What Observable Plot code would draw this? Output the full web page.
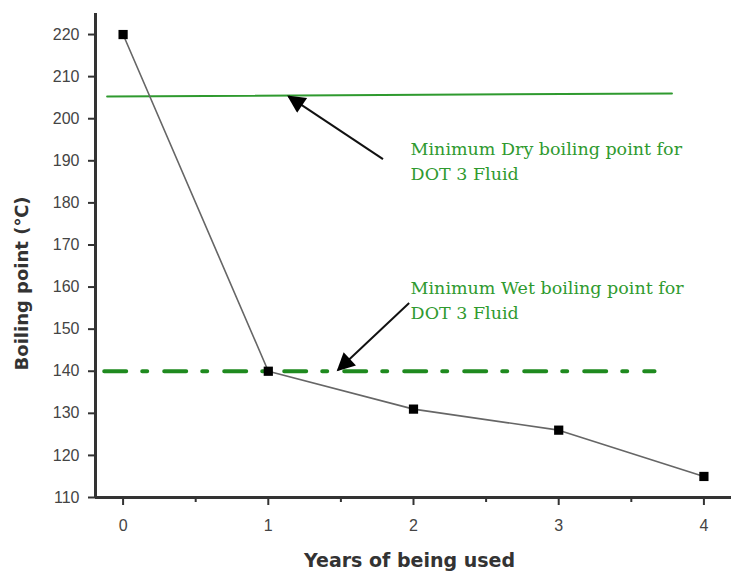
<!DOCTYPE html>
<html>
<head>
<meta charset="utf-8">
<script src="https://cdn.jsdelivr.net/npm/d3@7"></script>
<script src="https://cdn.jsdelivr.net/npm/@observablehq/plot@0.6"></script>
<style>
  html, body { margin: 0; padding: 0; background: #fff; }
  #chart svg { display: block; }
</style>
</head>
<body>
<div id="chart"></div>
<script>
// ---- data ----
const years = [0, 1, 2, 3, 4];
const boiling = [220, 140, 131, 126, 115];

const yTicks = [110, 120, 130, 140, 150, 160, 170, 180, 190, 200, 210, 220];
const xTicks = [0, 1, 2, 3, 4];
const xMinorTicks = [0.5, 1.5, 2.5, 3.5];

// minimum dry boiling point reference line (slightly sloped in original)
const dryX = [-0.11, 3.78];
const dryY = [205.3, 206.0];
// minimum wet boiling point reference line
const wetX = [-0.13, 3.66];
const wetY = [140, 140];

// annotation arrows (tail -> tip), data units
const arrowX1 = [1.79, 1.97];
const arrowY1 = [190.4, 156.2];
const arrowX2 = [1.14, 1.48];
const arrowY2 = [205.3, 140.3];

// annotation texts
const noteText = ["Minimum Dry boiling point for\nDOT 3 Fluid", "Minimum Wet boiling point for\nDOT 3 Fluid"];
const noteX = [1.98, 1.98];
const noteY = [190.3, 157.2];

const xLabel = "Years of being used";
const yLabel = "Boiling point (\u2103)";

// ---- build tables ----
const points = years.map((x, i) => ({x, y: boiling[i]}));
const dry = dryX.map((x, i) => ({x, y: dryY[i]}));
const wet = wetX.map((x, i) => ({x, y: wetY[i]}));
const arrows = arrowX1.map((x1, i) => ({x1, y1: arrowY1[i], x2: arrowX2[i], y2: arrowY2[i]}));
const notes = noteText.map((t, i) => ({t, x: noteX[i], y: noteY[i]}));

const green = "#2f9a2f";
const axisColor = "#333";
const tickFont = "Liberation Sans, Arial, sans-serif";

const chart = Plot.plot({
  width: 731,
  height: 571,
  marginLeft: 95,
  marginRight: 0,
  marginTop: 13,
  marginBottom: 74,
  style: {background: "#fff", fontFamily: tickFont},
  x: {domain: [-0.19, 4.19]},
  y: {domain: [110, 225]},
  marks: [
    // reference lines
    Plot.line(dry, {x: "x", y: "y", stroke: green, strokeWidth: 2}),
    Plot.line(wet, {x: "x", y: "y", stroke: "#1f8a1f", strokeWidth: 4, strokeDasharray: "22,16,5,17"}),
    // data
    Plot.line(points, {x: "x", y: "y", stroke: "#666", strokeWidth: 1.6}),
    Plot.dot(points, {x: "x", y: "y", symbol: "square", r: 5.2, fill: "#000", stroke: "none"}),
    // arrows
    Plot.link(arrows, {x1: "x1", y1: "y1", x2: "x2", y2: "y2", stroke: "#111", strokeWidth: 2, className: "annot-arrow"}),
    // notes
    Plot.text(notes, {x: "x", y: "y", text: "t", textAnchor: "start", lineAnchor: "middle", lineHeight: 1.4,
      fill: green, fontSize: 17.5, fontFamily: "DejaVu Serif, serif"}),
    // axes
    Plot.axisY({ticks: yTicks, tickSize: 7, tickPadding: 9, fontSize: 16, color: "#444", stroke: axisColor, strokeWidth: 2, label: null, tickFormat: "d"}),
    Plot.axisX({ticks: xTicks, tickSize: 8, tickPadding: 14, fontSize: 16, color: "#444", stroke: axisColor, strokeWidth: 2, label: null, tickFormat: "d"}),
    Plot.axisX({ticks: xMinorTicks, tickSize: 5, text: null, stroke: axisColor, strokeWidth: 2, label: null}),
    Plot.ruleX([-0.19], {stroke: axisColor, strokeWidth: 3}),
    Plot.ruleY([110], {stroke: axisColor, strokeWidth: 3}),
    // axis titles
    Plot.text([xLabel], {frameAnchor: "bottom", textAnchor: "middle", lineAnchor: "middle", dy: 63, dx: -4, fontSize: 19, fill: "#333", fontFamily: "DejaVu Sans, sans-serif", fontWeight: "bold"}),
    Plot.text([yLabel], {frameAnchor: "left", textAnchor: "middle", lineAnchor: "middle", rotate: -90, dx: -73, dy: 28, fontSize: 18, fill: "#333", fontFamily: "DejaVu Sans, sans-serif", fontWeight: "bold"})
  ]
});

// filled arrowheads for annotation arrows
const svg = d3.select(chart);
const defs = svg.insert("defs", ":first-child");
defs.append("marker")
  .attr("id", "filled-head")
  .attr("viewBox", "0 0 10 10")
  .attr("refX", 9).attr("refY", 5)
  .attr("markerUnits", "userSpaceOnUse")
  .attr("markerWidth", 20).attr("markerHeight", 18)
  .attr("orient", "auto")
  .append("path").attr("d", "M0,0 L10,5 L0,10 Z").attr("fill", "#000");
svg.selectAll(".annot-arrow path, g.annot-arrow path").attr("marker-end", "url(#filled-head)");

document.getElementById("chart").appendChild(chart);
</script>
</body>
</html>
